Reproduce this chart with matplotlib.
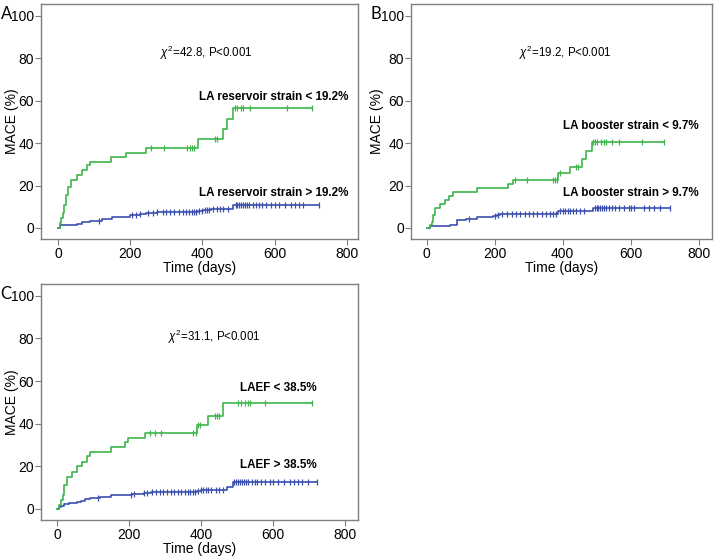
import numpy as np
import matplotlib
matplotlib.use("Agg")
import matplotlib.pyplot as plt

plt.rcParams['font.family'] = ['Liberation Sans', 'DejaVu Sans']
plt.rcParams['mathtext.fontset'] = 'custom'
plt.rcParams['mathtext.rm'] = 'Liberation Sans'
plt.rcParams['mathtext.it'] = 'Liberation Sans:italic'

# ---------------- data ----------------
# Panel A
a_low_t = [0, 5, 9, 14, 18, 22, 27, 37, 53, 66, 80, 90, 148, 188, 243, 389, 456, 467, 486, 703]
a_low_v = [0, 2.3, 4.6, 6.9, 10.8, 15.5, 19.5, 22.6, 25.0, 27.3, 29.7, 31.3, 33.5, 35.5, 37.8, 41.7, 46.5, 51.5, 56.3, 56.3]
a_low_c = [259, 294, 356, 365, 372, 378, 435, 440, 490, 497, 506, 512, 532, 634, 703]
a_high_t = [0, 6, 53, 66, 90, 122, 150, 200, 210, 227, 245, 273, 389, 402, 425, 486, 722]
a_high_v = [0, 1.3, 1.9, 2.6, 3.5, 4.3, 5.2, 5.9, 6.3, 6.6, 7.0, 7.3, 8.0, 8.5, 9.1, 10.6, 10.6]
a_high_c = [115, 205, 215, 228, 250, 262, 275, 290, 300, 310, 322, 335, 345, 355, 362, 370, 376, 382, 392,
            400, 406, 412, 418, 430, 440, 450, 458, 470, 492, 497, 502, 507, 512, 518, 524, 530, 540, 548,
            556, 566, 576, 590, 600, 612, 630, 645, 656, 668, 680, 722]

# Panel B
b_low_t = [0, 10, 15, 20, 26, 39, 54, 66, 78, 149, 240, 255, 387, 422, 456, 468, 485, 697]
b_low_v = [0, 1.5, 3.0, 6.1, 9.2, 11.3, 13.1, 15.0, 17.0, 18.8, 20.5, 22.5, 25.7, 28.8, 32.3, 36.3, 40.5, 40.5]
b_low_c = [260, 296, 372, 377, 382, 392, 440, 445, 490, 496, 502, 512, 520, 528, 545, 565, 632, 697]
b_high_t = [0, 10, 69, 88, 117, 147, 196, 206, 215, 387, 490, 715]
b_high_v = [0, 0.8, 1.5, 3.6, 4.2, 5.1, 5.8, 6.3, 6.8, 7.8, 9.3, 9.3]
b_high_c = [125, 200, 210, 222, 235, 250, 262, 275, 288, 300, 312, 325, 338, 350, 362, 372, 380, 392,
            400, 408, 415, 422, 430, 440, 452, 462, 495, 500, 505, 510, 515, 520, 528, 535, 545, 555,
            565, 580, 595, 600, 610, 640, 655, 668, 685, 715]

# Panel C
c_low_t = [0, 5, 11, 16, 20, 28, 42, 55, 69, 83, 90, 148, 189, 196, 245, 388, 419, 461, 708]
c_low_v = [0, 2.0, 4.2, 6.6, 11.3, 15.2, 17.5, 19.9, 22.2, 24.6, 26.6, 29.0, 31.3, 33.4, 35.5, 39.2, 43.5, 49.7, 49.7]
c_low_c = [258, 272, 288, 378, 384, 390, 395, 438, 444, 450, 502, 510, 520, 530, 536, 578, 708]
c_high_t = [0, 5, 10, 18, 32, 55, 65, 78, 92, 120, 148, 208, 240, 259, 388, 398, 472, 487, 722]
c_high_v = [0, 1.0, 1.5, 2.2, 2.7, 3.3, 3.9, 4.5, 5.3, 5.8, 6.3, 7.1, 7.6, 8.0, 8.6, 9.1, 10.4, 12.7, 12.7]
c_high_c = [112, 205, 212, 240, 250, 262, 275, 285, 295, 305, 315, 325, 335, 345, 355, 362, 370, 376, 382,
            392, 400, 406, 412, 418, 428, 440, 450, 460, 492, 497, 502, 507, 512, 518, 524, 530, 540, 548,
            556, 566, 576, 590, 600, 612, 630, 645, 656, 668, 680, 695, 722]

chi_texts = [r"$\chi^{2}$=42.8, P<0.001", r"$\chi^{2}$=19.2, P<0.001", r"$\chi^{2}$=31.1, P<0.001"]
low_labels = ["LA reservoir strain < 19.2%", "LA booster strain < 9.7%", "LAEF < 38.5%"]
high_labels = ["LA reservoir strain > 19.2%", "LA booster strain > 9.7%", "LAEF > 38.5%"]
panel_letters = ["A", "B", "C"]
x_ticks = [0, 200, 400, 600, 800]
y_ticks = [0, 20, 40, 60, 80, 100]

GREEN = "#3db54a"
BLUE = "#3a4fae"
FRAME = "#7f7f7f"

fig = plt.figure(figsize=(7.24, 5.56), dpi=100)

positions = [
    [41/724, 1 - 239/556, 317/724, 235/556],
    [411/724, 1 - 239/556, 301/724, 235/556],
    [41/724, 1 - 520/556, 317/724, 236/556],
]
xlims = [(-47, 831), (-46, 839), (-45, 835)]
ylims = [(-5.2, 105.5), (-5.2, 105.5), (-5.2, 105.5)]
ylabel_x = [-29/317, -34/301, -29/317]
xlabel_y = [-29/235, -29/235, -29/236]

panels = [
    (a_low_t, a_low_v, a_low_c, a_high_t, a_high_v, a_high_c),
    (b_low_t, b_low_v, b_low_c, b_high_t, b_high_v, b_high_c),
    (c_low_t, c_low_v, c_low_c, c_high_t, c_high_v, c_high_c),
]
chi_pos = [(283, 82.5), (271, 82.3), (308, 80.9)]
low_pos = [(803, 61.8), (801, 47.9), (719, 56.8)]
high_pos = [(803, 16.4), (801, 16.4), (719, 20.7)]
letter_pos = [(0.5/724, 1 - 6/556), (370/724, 1 - 6/556), (0.5/724, 1 - 286/556)]


def step_value(t_arr, v_arr, t):
    idx = np.searchsorted(np.asarray(t_arr), t, side='right') - 1
    return np.asarray(v_arr)[idx]


for i, (pos, data) in enumerate(zip(positions, panels)):
    ax = fig.add_axes(pos)
    lt, lv, lc, ht, hv, hc = data
    for (t, v, c, col) in [(ht, hv, hc, BLUE), (lt, lv, lc, GREEN)]:
        ax.step(t, v, where='post', color=col, lw=1.2)
        cy = step_value(t, v, np.asarray(c))
        ax.plot(c, cy, linestyle='none', marker='|', markersize=4.5, mew=0.9, color=col)
    ax.set_xlim(*xlims[i])
    ax.set_ylim(*ylims[i])
    ax.set_xticks(x_ticks)
    ax.set_yticks(y_ticks)
    ax.tick_params(direction='out', length=4, width=0.8, color=FRAME, labelsize=10)
    ax.tick_params(axis='y', pad=1)
    ax.tick_params(axis='x', pad=2)
    for s in ax.spines.values():
        s.set_color(FRAME)
        s.set_linewidth(1.0)
    ax.set_xlabel("Time (days)", fontsize=10)
    ax.set_ylabel("MACE (%)", fontsize=10)
    ax.yaxis.set_label_coords(ylabel_x[i], 0.5)
    ax.xaxis.set_label_coords(0.5, xlabel_y[i])
    ax.xaxis.label.set_va('center')
    ax.yaxis.label.set_va('center')
    ax.text(chi_pos[i][0], chi_pos[i][1], chi_texts[i], fontsize=8.3, ha='left', va='center')
    ax.text(low_pos[i][0], low_pos[i][1], low_labels[i], fontsize=8.4, fontweight='bold', ha='right', va='center')
    ax.text(high_pos[i][0], high_pos[i][1], high_labels[i], fontsize=8.4, fontweight='bold', ha='right', va='center')
    fig.text(letter_pos[i][0], letter_pos[i][1], panel_letters[i], fontsize=12, family=['Lato', 'DejaVu Sans'],
             ha='left', va='top')

fig.savefig("out.png", dpi=100)
